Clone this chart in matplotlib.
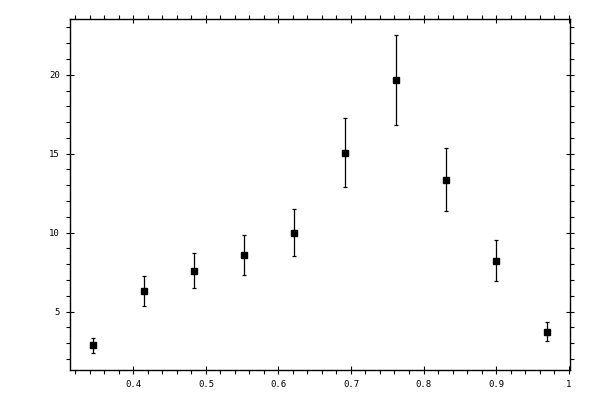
import matplotlib
matplotlib.use("Agg")
import matplotlib.pyplot as plt
from matplotlib.ticker import MultipleLocator, FuncFormatter

x_vals = [0.344, 0.414, 0.483, 0.553, 0.622, 0.692, 0.762, 0.831, 0.900, 0.970]
y_vals = [2.85, 6.33, 7.59, 8.56, 10.0, 15.06, 19.66, 13.35, 8.23, 3.73]
y_err = [0.50, 0.95, 1.13, 1.27, 1.49, 2.19, 2.86, 2.0, 1.30, 0.60]

fig = plt.figure(figsize=(6, 4), dpi=100)
ax = fig.add_axes([0.116, 0.074, 0.834, 0.878])

ax.errorbar(x_vals, y_vals, yerr=y_err, fmt='s', color='black', ms=4.8,
            ecolor='black', elinewidth=0.9, capsize=1.6, capthick=0.9)

ax.set_xlim(0.312, 1.002)
ax.set_ylim(1.27, 23.52)

ax.xaxis.set_major_locator(MultipleLocator(0.1))
ax.xaxis.set_minor_locator(MultipleLocator(0.02))
ax.yaxis.set_major_locator(MultipleLocator(5))
ax.yaxis.set_minor_locator(MultipleLocator(1))

def fmt(v, pos):
    s = ('%.1f' % v)
    if s.endswith('.0'):
        s = s[:-2]
    return s

ax.xaxis.set_major_formatter(FuncFormatter(fmt))
ax.yaxis.set_major_formatter(FuncFormatter(fmt))

ax.tick_params(which='major', direction='inout', length=6, width=0.8,
               top=True, right=True, labelsize=6.5, pad=4)
ax.tick_params(which='minor', direction='out', length=2.6, width=0.8,
               top=True, right=True)
for lab in ax.get_xticklabels() + ax.get_yticklabels():
    lab.set_family('DejaVu Sans Mono')
for sp in ax.spines.values():
    sp.set_linewidth(1.0)

fig.savefig('out.png', dpi=100)
